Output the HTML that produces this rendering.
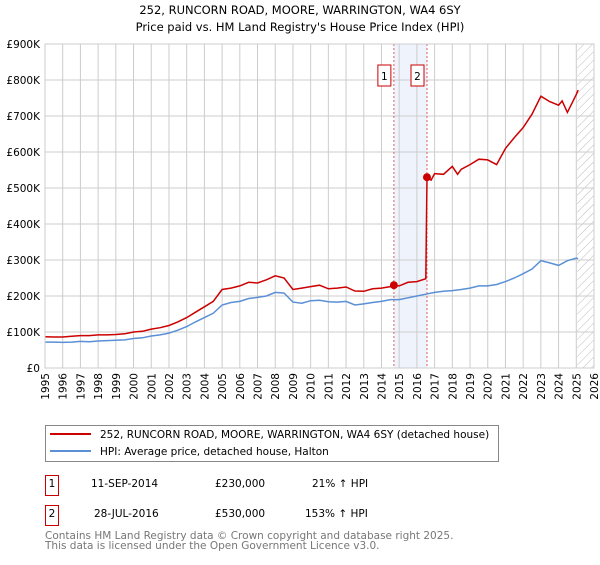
<!DOCTYPE html>
<html><head><meta charset="utf-8"><style>
body{margin:0;background:#fff;font-family:"Liberation Sans","DejaVu Sans",sans-serif;}
svg text{font-family:"DejaVu Sans","Liberation Sans",sans-serif;}
</style></head><body>
<svg id="c" width="600" height="560" xmlns="http://www.w3.org/2000/svg">
<defs><pattern id="hatch" width="6" height="6" patternUnits="userSpaceOnUse" patternTransform="rotate(45)"><line x1="0" y1="0" x2="0" y2="6" stroke="#bbb" stroke-width="1"/></pattern></defs>
<text x="300" y="14" text-anchor="middle" font-size="11.5">252, RUNCORN ROAD, MOORE, WARRINGTON, WA4 6SY</text>
<text x="300" y="31" text-anchor="middle" font-size="11.5">Price paid vs. HM Land Registry's House Price Index (HPI)</text>
<g id="plot"></g>
<g>
<rect x="45.5" y="425.5" width="453" height="36" fill="#fff" stroke="#888"/>
<line x1="50" y1="434" x2="91" y2="434" stroke="#cc0000" stroke-width="2"/>
<text x="100" y="438" font-size="10.5">252, RUNCORN ROAD, MOORE, WARRINGTON, WA4 6SY (detached house)</text>
<line x1="50" y1="451" x2="91" y2="451" stroke="#5b8fd6" stroke-width="2"/>
<text x="100" y="455" font-size="10.5">HPI: Average price, detached house, Halton</text>
</g>
<g font-size="10.5">
<rect x="45.5" y="475.5" width="13" height="20" fill="#fff" stroke="#cc0000"/><text x="52" y="487" text-anchor="middle">1</text>
<text x="91" y="487">11-SEP-2014</text><text x="215" y="487">£230,000</text><text x="312" y="487">21% ↑ HPI</text>
<rect x="45.5" y="505.5" width="13" height="20" fill="#fff" stroke="#cc0000"/><text x="52" y="517" text-anchor="middle">2</text>
<text x="94" y="517">28-JUL-2016</text><text x="215" y="517">£530,000</text><text x="305" y="517">153% ↑ HPI</text>
</g>
<g font-size="10.5" fill="#777">
<text x="45" y="539">Contains HM Land Registry data © Crown copyright and database right 2025.</text>
<text x="45" y="549">This data is licensed under the Open Government Licence v3.0.</text>
</g>
</svg>
<script>
const years=[1995,1996,1997,1998,1999,2000,2001,2002,2003,2004,2005,2006,2007,2008,2009,2010,2011,2012,2013,2014,2015,2016,2017,2018,2019,2020,2021,2022,2023,2024,2025,2026];
const yTicks=[0,100,200,300,400,500,600,700,800,900];
const yLabels=["£0","£100K","£200K","£300K","£400K","£500K","£600K","£700K","£800K","£900K"];
const hpiDates=[1995,1995.5,1996,1996.5,1997,1997.5,1998,1998.5,1999,1999.5,2000,2000.5,2001,2001.5,2002,2002.5,2003,2003.5,2004,2004.5,2005,2005.5,2006,2006.5,2007,2007.5,2008,2008.5,2009,2009.5,2010,2010.5,2011,2011.5,2012,2012.5,2013,2013.5,2014,2014.5,2015,2015.5,2016,2016.5,2017,2017.5,2018,2018.5,2019,2019.5,2020,2020.5,2021,2021.5,2022,2022.5,2023,2023.5,2024,2024.5,2025,2025.1];
const hpiValues=[72,72,71,72,74,73,75,76,77,78,82,84,89,92,97,105,115,128,140,152,175,182,185,193,196,200,210,208,183,180,187,188,184,183,185,175,178,182,185,190,190,195,200,205,210,213,215,218,222,228,228,232,240,250,262,275,298,292,285,298,305,304];
const redDates=[1995,1995.5,1996,1996.5,1997,1997.5,1998,1998.5,1999,1999.5,2000,2000.5,2001,2001.5,2002,2002.5,2003,2003.5,2004,2004.5,2005,2005.5,2006,2006.5,2007,2007.5,2008,2008.5,2009,2009.5,2010,2010.5,2011,2011.5,2012,2012.5,2013,2013.5,2014,2014.5,2014.7,2015,2015.5,2016,2016.5,2016.57,2016.8,2017,2017.5,2018,2018.3,2018.5,2019,2019.5,2020,2020.5,2021,2021.5,2022,2022.5,2023,2023.5,2024,2024.2,2024.5,2025,2025.1];
const redValues=[87,86,86,88,90,90,92,92,93,95,100,102,108,112,118,128,140,155,170,185,218,222,228,238,236,245,256,250,218,222,226,230,220,222,225,214,213,220,222,226,230,228,238,240,248,530,522,540,538,560,538,552,565,580,578,565,610,640,668,705,755,740,730,742,710,760,772];
const sales=[{n:"1",t:2014.70,v:230},{n:"2",t:2016.57,v:530}];
const X0=45,X1=594,Y0=368,Y1=44;
const x=t=>X0+(t-1995)/(2026-1995)*(X1-X0);
const y=v=>Y0-v/900*(Y0-Y1);
const g=document.getElementById('plot');
const NS="http://www.w3.org/2000/svg";
function mk(tag,attrs){const e=document.createElementNS(NS,tag);for(const k in attrs)e.setAttribute(k,attrs[k]);g.appendChild(e);return e;}
let band=mk('rect',{x:x(sales[0].t),y:Y1,width:x(sales[1].t)-x(sales[0].t),height:Y0-Y1,fill:'#eef3fc'});


let hat=mk('rect',{x:x(2025.05),y:Y1,width:X1-x(2025.05),height:Y0-Y1,fill:'url(#hatch)'});


years.forEach(t=>{const l=mk('line',{x1:x(t),x2:x(t),y1:Y1,y2:Y0,stroke:'#ccc','stroke-width':1});


const tx=mk('text',{x:0,y:0,'font-size':10.5,'text-anchor':'end',transform:`translate(${x(t)+4},${Y0+5}) rotate(-90)`});tx.textContent=t;

});
yTicks.forEach((v,i)=>{const l=mk('line',{x1:X0,x2:X1,y1:y(v),y2:y(v),stroke:'#ccc','stroke-width':1});


const tx=mk('text',{x:X0-5,y:y(v)+4,'font-size':10.5,'text-anchor':'end'});tx.textContent=yLabels[i];

});
sales.forEach(s=>{const l=mk('line',{x1:x(s.t),x2:x(s.t),y1:Y1,y2:Y0,stroke:'#e06060','stroke-width':1,'stroke-dasharray':'2,2'});

});
const pts=(d,v)=>d.map((t,i)=>x(t).toFixed(1)+','+y(v[i]).toFixed(1)).join(' ');
const hl=mk('polyline',{points:pts(hpiDates,hpiValues),fill:'none',stroke:'#5b8fd6','stroke-width':1.5});


const rl=mk('polyline',{points:pts(redDates,redValues),fill:'none',stroke:'#cc0000','stroke-width':1.5});


sales.forEach(s=>{const c=mk('circle',{cx:x(s.t),cy:y(s.v),r:4,fill:'#cc0000'});


const r=mk('rect',{x:x(s.t)-16,y:65,width:13,height:21,fill:'#fff',stroke:'#cc0000'});


const t=mk('text',{x:x(s.t)-9.5,y:80,'font-size':10.5,'text-anchor':'middle'});t.textContent=s.n;

});
const fr=mk('rect',{x:X0,y:Y1,width:X1-X0,height:Y0-Y1,fill:'none',stroke:'#ccc'});


</script>
</body></html>
